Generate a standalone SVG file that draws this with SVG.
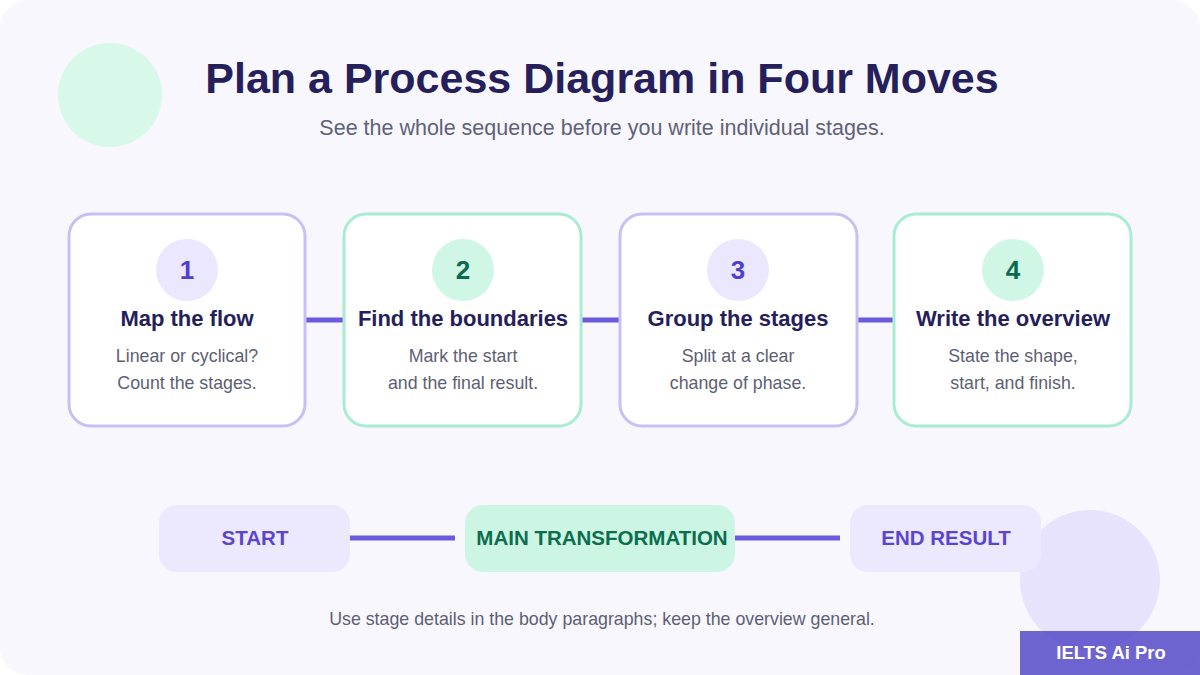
<svg xmlns="http://www.w3.org/2000/svg" width="1200" height="675" viewBox="0 0 1200 675">
<style>
text{font-family:"Liberation Sans",Arial,sans-serif;text-anchor:middle}
.num{font-size:26px;font-weight:700}
.ttl{font-size:22px;font-weight:700;fill:#25205a}
.dsc{font-size:17.8px;fill:#5d5f73}
.cp{fill:#fff;stroke:#c9bff5;stroke-width:3}
.cg{fill:#fff;stroke:#a8ecd2;stroke-width:3}
.conn{stroke:#6a5add;stroke-width:5;fill:none}
.pill{font-size:20.5px;font-weight:700}
</style>
<rect width="1200" height="675" fill="#ffffff"/>
<rect width="1200" height="675" rx="28" fill="#f8f7fe"/>
<circle cx="110" cy="95" r="52" fill="#d8f8ea"/>
<text x="602" y="93" style="font-size:43px;font-weight:700;fill:#25205a">Plan a Process Diagram in Four Moves</text>
<text x="602" y="135" style="font-size:21.5px;fill:#5f6277">See the whole sequence before you write individual stages.</text>
<g id="connectors">
<line class="conn" x1="305" y1="320" x2="344" y2="320"/>
<line class="conn" x1="581" y1="320" x2="620" y2="320"/>
<line class="conn" x1="857" y1="320" x2="894" y2="320"/>
<line class="conn" x1="350" y1="538" x2="455" y2="538"/>
<line class="conn" x1="735" y1="538" x2="840" y2="538"/>
</g>
<g id="step1">
<rect class="cp" x="69" y="214" width="236" height="212" rx="22"/>
<circle cx="187" cy="270" r="31" fill="#ebe7fe"/>
<text class="num" x="187" y="279" fill="#4f3fd0">1</text>
<text class="ttl" x="187" y="326">Map the flow</text>
<text class="dsc" x="187" y="362">Linear or cyclical?</text>
<text class="dsc" x="187" y="389">Count the stages.</text>
</g>
<g id="step2">
<rect class="cg" x="344" y="214" width="237" height="212" rx="22"/>
<circle cx="463" cy="270" r="31" fill="#d0f6e6"/>
<text class="num" x="463" y="279" fill="#0b6b50">2</text>
<text class="ttl" x="463" y="326">Find the boundaries</text>
<text class="dsc" x="463" y="362">Mark the start</text>
<text class="dsc" x="463" y="389">and the final result.</text>
</g>
<g id="step3">
<rect class="cp" x="620" y="214" width="237" height="212" rx="22"/>
<circle cx="738" cy="270" r="31" fill="#ebe7fe"/>
<text class="num" x="738" y="279" fill="#4f3fd0">3</text>
<text class="ttl" x="738" y="326">Group the stages</text>
<text class="dsc" x="738" y="362">Split at a clear</text>
<text class="dsc" x="738" y="389">change of phase.</text>
</g>
<g id="step4">
<rect class="cg" x="894" y="214" width="237" height="212" rx="22"/>
<circle cx="1013" cy="270" r="31" fill="#d0f6e6"/>
<text class="num" x="1013" y="279" fill="#0b6b50">4</text>
<text class="ttl" x="1013" y="326">Write the overview</text>
<text class="dsc" x="1013" y="362">State the shape,</text>
<text class="dsc" x="1013" y="389">start, and finish.</text>
</g>
<circle cx="1090" cy="580" r="70" fill="#e7e3fc"/>
<g id="start">
<rect x="159" y="505" width="191" height="67" rx="18" fill="#ece8fe"/>
<text class="pill" x="255" y="545" fill="#5a45cd">START</text>
</g>
<g id="main">
<rect x="465" y="505" width="270" height="67" rx="18" fill="#cdf5e3"/>
<text class="pill" x="602" y="545" fill="#0b6e4f">MAIN TRANSFORMATION</text>
</g>
<g id="end">
<rect x="850" y="505" width="191" height="67" rx="18" fill="#ece8fe"/>
<text class="pill" x="946" y="545" fill="#5a45cd">END RESULT</text>
</g>
<text class="dsc" x="602" y="625">Use stage details in the body paragraphs; keep the overview general.</text>
<g id="badge">
<rect x="1020" y="631" width="180" height="44" fill="#564ac8" fill-opacity="0.85"/>
<text x="1111" y="659" style="font-size:18.4px;font-weight:700;fill:#fff">IELTS Ai Pro</text>
</g>
</svg>
